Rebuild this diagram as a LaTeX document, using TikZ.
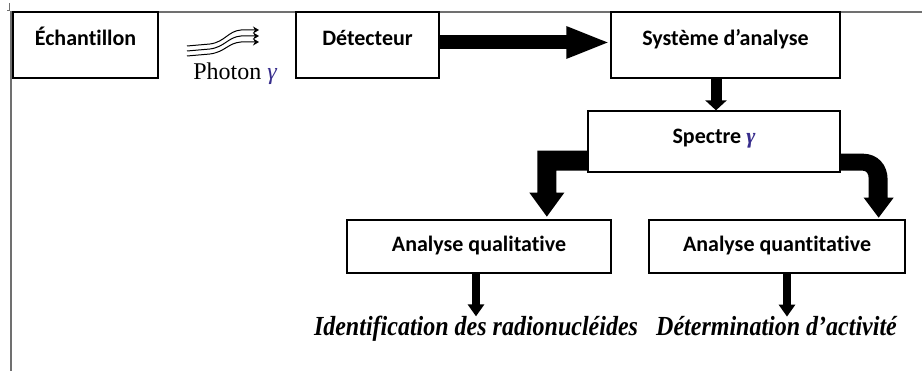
\documentclass[tikz,border=0pt]{standalone}
\usepackage{fontspec}
\setmainfont{Liberation Serif}
\newfontfamily\labelfont{Carlito}[Ligatures=CommonOff]
\newfontfamily\greekfont{Liberation Serif}
\usetikzlibrary{arrows.meta,calc}

\definecolor{framegray}{RGB}{112,112,112}
\definecolor{gammablue}{RGB}{55,45,140}

% italic gamma used in the labels
\newcommand{\gam}{{\greekfont\itshape\color{gammablue}γ}}
% slightly tall setting for the outcome lines
\newcommand{\tallline}[1]{\scalebox{1}[1.15]{#1}}

\begin{document}
\begin{tikzpicture}[x=1pt,y=-1pt,
  box/.style={draw=black, line width=1.3pt, inner sep=0pt,
    font=\labelfont\bfseries\fontsize{22}{26}\selectfont},
  result/.style={inner sep=0pt, anchor=base,
    font=\bfseries\itshape\fontsize{24}{28}\selectfont},
  fatarrow/.style={draw=black, line width=#1},
  wave/.style={draw=black, line width=1pt, -{Stealth[length=6pt,width=7pt]}}
]
\useasboundingbox (0,0) rectangle (922,371);

% page frame
\draw[framegray, line width=1.5pt] (11,371) -- (11,12) -- (922,12);
\draw[framegray, line width=0.8pt] (9.5,3) -- (9.5,10) -- (6.5,10);

% boxes
\node[box, minimum width=145pt, minimum height=66pt] (ech) at (85.5,45)
  {\raisebox{-1pt}[0pt][0pt]{Échantillon}};
\node[box, minimum width=143pt, minimum height=66pt] (det) at (367.5,45)
  {\raisebox{-1pt}[0pt][0pt]{Détecteur}};
\node[box, minimum width=229pt, minimum height=66pt] (sys) at (725.5,45)
  {\raisebox{-1pt}[0pt][0pt]{Système d’analyse}};
\node[box, minimum width=252pt, minimum height=61pt] (spec) at (714,141.5)
  {\raisebox{-2pt}[0pt][0pt]{Spectre \gam}};
\node[box, minimum width=264pt, minimum height=53pt] (qual) at (479,246.5)
  {\raisebox{-5pt}[0pt][0pt]{Analyse qualitative}};
\node[box, minimum width=256pt, minimum height=53pt] (quant) at (777,246.5)
  {\raisebox{-5pt}[0pt][0pt]{Analyse quantitative}};

% results
\node[result] (ident) at (476,336) {\tallline{Identification des radionucléides}};
\node[result] (deter) at (776.5,336) {\tallline{Détermination d’activité}};

% photon beam
\node[inner sep=0pt, anchor=base, font=\fontsize{24}{26}\selectfont] (ph) at (235,80)
  {Photon \gam};
\foreach \yl/\yr in {46/30, 51/36, 56/42}{
  \draw[wave] (187,\yl) -- (210,\yl-2) .. controls (225,\yl-4) and (228,\yr+1) .. (241,\yr) -- (259,\yr);
}

% connectors
\draw[fatarrow=14pt, -{Triangle[width=29pt,length=44pt]}]
  ([yshift=2.5pt]det.east) -- ([yshift=2.5pt]sys.west);
\draw[fatarrow=11pt, -{Triangle[width=21pt,length=10pt]}]
  ([xshift=2pt]sys.south -| spec.north) -- ([xshift=2pt]spec.north);

% elbow towards the qualitative branch
\fill[shift={(spec.south west)}] (0,-22) -- (-50,-22) -- (-50,20) -- (-58,20)
  -- (-40.5,44) -- (-23,20) -- (-31,20) -- (-31,-2) -- (0,-2) -- cycle;
% bent arrow towards the quantitative branch
\fill[shift={(spec.south east)}] (0,-19) -- (22,-19)
  .. controls (37,-19) and (47,-8) .. (47,7) -- (47,25) -- (53,25)
  -- (38,45) -- (23,25) -- (28,25) -- (28,6)
  .. controls (28,1) and (26,-2) .. (22,-2) -- (0,-2) -- cycle;

\draw[fatarrow=8pt, -{Triangle[width=16pt,length=12pt]}]
  ([xshift=-3pt]qual.south) -- ([xshift=-3pt]qual.south |- ident.north);
\draw[fatarrow=8pt, -{Triangle[width=16pt,length=12pt]}]
  ([xshift=10pt]quant.south) -- ([xshift=10pt]quant.south |- deter.north);
\end{tikzpicture}
\end{document}
